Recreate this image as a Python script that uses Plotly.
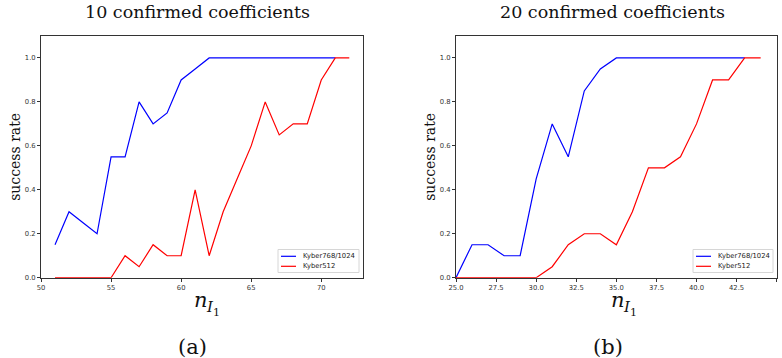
import plotly.graph_objects as go

W, H = 782, 358

# ---- data ----
left_x_blue = list(range(51, 72))
left_blue = [0.15, 0.30, 0.25, 0.20, 0.55, 0.55, 0.80, 0.70, 0.75, 0.90, 0.95,
             1.0, 1.0, 1.0, 1.0, 1.0, 1.0, 1.0, 1.0, 1.0, 1.0]
left_x_red = list(range(51, 73))
left_red = [0.0, 0.0, 0.0, 0.0, 0.0, 0.10, 0.05, 0.15, 0.10, 0.10, 0.40,
            0.10, 0.30, 0.45, 0.60, 0.80, 0.65, 0.70, 0.70, 0.90, 1.0, 1.0]

right_x_blue = list(range(25, 44))
right_blue = [0.0, 0.15, 0.15, 0.10, 0.10, 0.45, 0.70, 0.55, 0.85, 0.95,
              1.0, 1.0, 1.0, 1.0, 1.0, 1.0, 1.0, 1.0, 1.0]
right_x_red = list(range(25, 45))
right_red = [0.0, 0.0, 0.0, 0.0, 0.0, 0.0, 0.05, 0.15, 0.20, 0.20,
             0.15, 0.30, 0.50, 0.50, 0.55, 0.70, 0.90, 0.90, 1.0, 1.0]

left_xticks = [50, 55, 60, 65, 70]
right_xticks = [25.0, 27.5, 30.0, 32.5, 35.0, 37.5, 40.0, 42.5, 45.0]
yticks = [0.0, 0.2, 0.4, 0.6, 0.8, 1.0]

titles = ["10 confirmed coefficients", "20 confirmed coefficients"]
panel_labels = ["(a)", "(b)"]
series_names = ["Kyber768/1024", "Kyber512"]
series_colors = ["#0000ff", "#ff0000"]

# ---- geometry (pixels) ----
def px(x):
    return x / W

def py(y):
    return 1 - y / H

L0, L1 = 41, 363.3
R0, R1 = 456, 776.7
T, B = 36, 277.7

fig = go.Figure()

fig.add_trace(go.Scatter(x=left_x_blue, y=left_blue, mode="lines", name=series_names[0],
                         line=dict(color=series_colors[0], width=1.2), xaxis="x", yaxis="y"))
fig.add_trace(go.Scatter(x=left_x_red, y=left_red, mode="lines", name=series_names[1],
                         line=dict(color=series_colors[1], width=1.2), xaxis="x", yaxis="y"))
fig.add_trace(go.Scatter(x=right_x_blue, y=right_blue, mode="lines", name=series_names[0],
                         line=dict(color=series_colors[0], width=1.2), xaxis="x2", yaxis="y2"))
fig.add_trace(go.Scatter(x=right_x_red, y=right_red, mode="lines", name=series_names[1],
                         line=dict(color=series_colors[1], width=1.2), xaxis="x2", yaxis="y2"))

tickfont = dict(family="DejaVu Sans", size=6.8, color="#333333")
axcommon = dict(showgrid=False, zeroline=False, showline=True, linecolor="#333333",
                linewidth=1, mirror=True, ticks="outside", ticklen=3, tickwidth=0.8,
                tickcolor="#333333", tickfont=tickfont, automargin=False)

fig.update_layout(
    width=W, height=H,
    margin=dict(l=0, r=0, t=0, b=0),
    paper_bgcolor="white", plot_bgcolor="white",
    xaxis=dict(domain=[px(L0), px(L1)], range=[50, 73], tickvals=left_xticks,
               ticktext=[str(v) for v in left_xticks], anchor="y", **axcommon),
    yaxis=dict(domain=[py(B), py(T)], range=[0, 1.1], tickvals=yticks,
               tickformat=".1f", anchor="x", **axcommon),
    xaxis2=dict(domain=[px(R0), px(R1)], range=[25, 45], tickvals=right_xticks,
                tickformat=".1f", anchor="y2", **axcommon),
    yaxis2=dict(domain=[py(B), py(T)], range=[0, 1.1], tickvals=yticks,
                tickformat=".1f", anchor="x2", **axcommon),
    showlegend=False,
)

serif = "DejaVu Serif"
ann = []
shapes = []
for cx, t in zip([197, 612], titles):
    ann.append(dict(text=t, x=px(cx), y=py(12), xref="paper", yref="paper",
                    showarrow=False, xanchor="center", yanchor="middle",
                    font=dict(family=serif, size=17.5, color="#111111")))
for cx, lab in zip([192, 607.5], panel_labels):
    ann.append(dict(text=lab, x=px(cx), y=py(347), xref="paper", yref="paper",
                    showarrow=False, xanchor="center", yanchor="middle",
                    font=dict(family=serif, size=21, color="#111111")))
for cx in [15, 430]:
    ann.append(dict(text="success rate", x=px(cx), y=py((T + B) / 2), xref="paper",
                    yref="paper", showarrow=False, textangle=-90,
                    xanchor="center", yanchor="middle",
                    font=dict(family=serif, size=14, color="#111111")))
# x-axis label n_{I_1}
for cx in [192, 609]:
    ann.append(dict(text="<i>n</i>", x=px(cx), y=py(299.5), xref="paper", yref="paper",
                    showarrow=False, xanchor="left", yanchor="middle",
                    font=dict(family=serif, size=21, color="#111111")))
    ann.append(dict(text="<i>I</i>", x=px(cx + 12), y=py(307), xref="paper", yref="paper",
                    showarrow=False, xanchor="left", yanchor="middle",
                    font=dict(family=serif, size=15, color="#111111")))
    ann.append(dict(text="1", x=px(cx + 19), y=py(312), xref="paper", yref="paper",
                    showarrow=False, xanchor="left", yanchor="middle",
                    font=dict(family=serif, size=11, color="#111111")))

# legends (matplotlib-style, drawn as shapes + text)
for bx0, bx1 in [(278, 359), (693, 773)]:
    shapes.append(dict(type="rect", xref="paper", yref="paper",
                       x0=px(bx0), x1=px(bx1), y0=py(272.5), y1=py(249.5),
                       fillcolor="rgba(255,255,255,0.8)",
                       line=dict(color="#d6d6d6", width=1), layer="above"))
    for name, col, ly in zip(series_names, series_colors, [256.3, 266.3]):
        shapes.append(dict(type="line", xref="paper", yref="paper",
                           x0=px(bx0 + 3), x1=px(bx0 + 18), y0=py(ly), y1=py(ly),
                           line=dict(color=col, width=1.2), layer="above"))
        ann.append(dict(text=name, x=px(bx0 + 23), y=py(ly), xref="paper", yref="paper",
                        showarrow=False, xanchor="left", yanchor="middle",
                        font=dict(family="DejaVu Sans", size=6.8, color="#222222")))

fig.update_layout(annotations=ann, shapes=shapes)

fig.write_html("out.html",
               config={"displayModeBar": False},
               post_script="document.body.style.margin='0';document.body.style.padding='0';"
                           "document.documentElement.style.overflow='hidden';")
